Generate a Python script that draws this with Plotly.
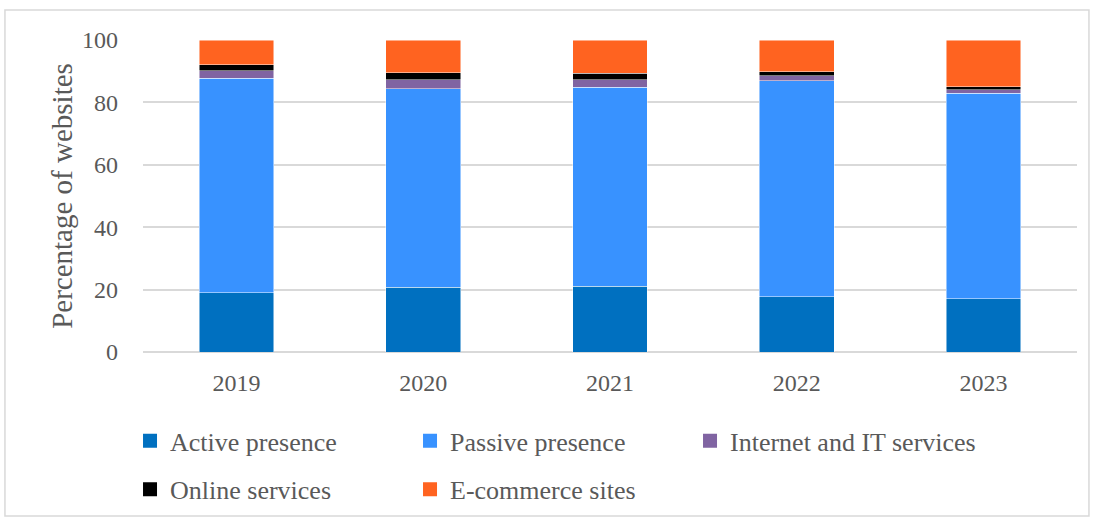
import plotly.graph_objects as go

years = ["2019", "2020", "2021", "2022", "2023"]
active = [19.0, 20.7, 21.0, 17.7, 17.1]
passive = [68.7, 63.7, 63.8, 69.3, 65.8]
it_services = [2.4, 2.8, 2.4, 1.5, 1.1]
online = [1.9, 2.3, 2.1, 1.3, 1.0]
ecommerce = [8.0, 10.5, 10.7, 10.2, 15.0]

series = [
    ("Active presence", active, "#0070c0", "legend"),
    ("Passive presence", passive, "#3892ff", "legend"),
    ("Internet and IT services", it_services, "#8064a2", "legend3"),
    ("Online services", online, "#000000", "legend2"),
    ("E-commerce sites", ecommerce, "#ff6320", "legend2"),
]

FONT = "Liberation Serif"
TEXT = "#595959"

fig = go.Figure()
for name, vals, color, leg in series:
    fig.add_trace(go.Bar(
        x=years, y=vals, name=name, showlegend=False,
        marker=dict(color=color, line=dict(color="rgba(255,255,255,0.6)", width=0.8)),
    ))

# Legend keys drawn as square markers so the swatch size can be set
for name, vals, color, leg in series:
    fig.add_trace(go.Scatter(
        x=[None], y=[None], mode="markers", name=name, legend=leg,
        marker=dict(symbol="square", size=14, color=color),
    ))

legend_common = dict(
    orientation="h", xanchor="left", yanchor="middle",
    font=dict(family=FONT, size=26, color=TEXT),
    entrywidth=235, entrywidthmode="pixels",
    bgcolor="rgba(0,0,0,0)", itemwidth=30, traceorder="normal",
)

LX = -0.0139
COL = 280 / 934

fig.update_layout(
    width=1094, height=521,
    margin=dict(l=143, r=17, t=40, b=169, autoexpand=False),
    barmode="stack", bargap=0.6,
    plot_bgcolor="white", paper_bgcolor="white",
    font=dict(family=FONT, size=24, color=TEXT),
    showlegend=True,
    legend=dict(x=LX, y=-0.285, **legend_common),
    legend3=dict(x=LX + 2 * COL, y=-0.285, **{**legend_common, "entrywidth": 300}),
    legend2=dict(x=LX, y=-0.44, **legend_common),
    xaxis=dict(
        showgrid=False, ticks="", showline=False, ticklabelstandoff=14, automargin=False,
        tickfont=dict(family=FONT, size=24, color=TEXT),
    ),
    yaxis=dict(
        range=[0, 100], dtick=20, showgrid=True, gridcolor="#d9d9d9", gridwidth=1.5,
        zeroline=True, zerolinecolor="#d9d9d9", zerolinewidth=1.5,
        ticks="", showline=False, ticklabelstandoff=24, automargin=False,
        tickfont=dict(family=FONT, size=24, color=TEXT),
        title=dict(text="Percentage of websites", font=dict(family=FONT, size=29, color=TEXT),
                   standoff=0),
    ),
    shapes=[dict(
        type="rect", xref="paper", yref="paper",
        x0=-0.1478, x1=1.0128, y0=-0.5256, y1=1.0962,
        line=dict(color="#d9d9d9", width=1.5), fillcolor="rgba(0,0,0,0)", layer="below",
    )],
)

fig.write_html("out.html")
